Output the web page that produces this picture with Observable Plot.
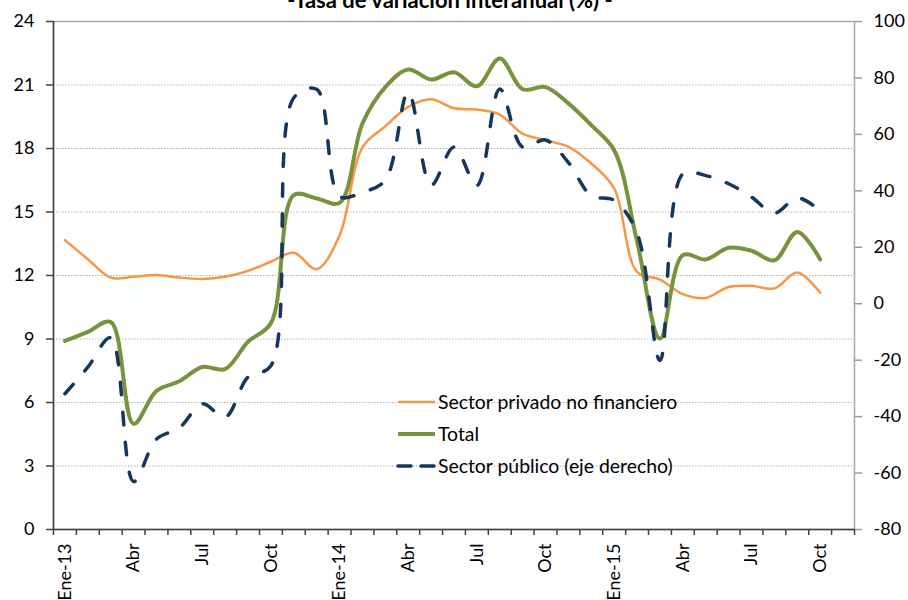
<!DOCTYPE html>
<html>
<head>
<meta charset="utf-8">
<script src="https://cdn.jsdelivr.net/npm/d3@7"></script>
<script src="https://cdn.jsdelivr.net/npm/@observablehq/plot@0.6"></script>
<style>
  html, body { margin: 0; padding: 0; background: #fff; }
  #chart { position: relative; width: 908px; height: 600px; overflow: hidden; }
</style>
</head>
<body>
<div id="chart"></div>
<script>
// Months Ene-13 .. Oct-15 (index 0..33); one empty slot (Nov-15) at the end of the axis
const meses = ["Ene-13","Feb-13","Mar-13","Abr-13","May-13","Jun-13","Jul-13","Ago-13","Sep-13","Oct-13","Nov-13","Dic-13",
               "Ene-14","Feb-14","Mar-14","Abr-14","May-14","Jun-14","Jul-14","Ago-14","Sep-14","Oct-14","Nov-14","Dic-14",
               "Ene-15","Feb-15","Mar-15","Abr-15","May-15","Jun-15","Jul-15","Ago-15","Sep-15","Oct-15"];
const nSlots = 35;

// Sector privado no financiero (left axis, %)
const privado = [13.67, 12.77, 11.90, 11.94, 12.02, 11.90, 11.84, 11.94, 12.22, 12.65, 13.07, 12.30,
                 13.90, 18.05, 19.05, 19.97, 20.33, 19.90, 19.84, 19.60, 18.70, 18.39, 18.08, 17.29,
                 16.11, 12.17, 11.81, 11.12, 10.94, 11.46, 11.51, 11.39, 12.14, 11.18];
// Total (left axis, %)
const total = [8.91, 9.34, 9.80, 4.99, 6.55, 7.00, 7.68, 7.58, 8.87, 9.75, 15.80, 15.64,
               15.43, 19.18, 20.90, 21.73, 21.26, 21.60, 20.94, 22.25, 20.80, 20.90, 20.13, 19.10,
               17.92, 13.60, 9.02, 12.96, 12.76, 13.31, 13.17, 12.72, 14.06, 12.76];
// Sector público (right axis, %)
const publico = [-31.9, -22.5, -12.0, -63.0, -48.0, -44.0, -35.5, -40.2, -26.0, -22.0, 73.0, 76.0,
                 38.0, 39.5, 43.8, 75.0, 42.0, 55.5, 41.9, 76.1, 55.5, 58.0, 50.0, 38.3,
                 36.6, 25.0, -20.1, 46.0, 45.4, 42.5, 37.8, 32.1, 37.5, 33.0];

const leftTicks = [0, 3, 6, 9, 12, 15, 18, 21, 24];
const gridTicks = [3, 6, 9, 12, 15, 18, 21];
const rightTicks = [-80, -60, -40, -20, 0, 20, 40, 60, 80, 100];
const xLabelIdx = [0, 3, 6, 9, 12, 15, 18, 21, 24, 27, 30, 33];
const xLabels = ["Ene-13","Abr","Jul","Oct","Ene-14","Abr","Jul","Oct","Ene-15","Abr","Jul","Oct"];

const titulo = "-Tasa de variación interanual (%) -";
const series = ["Sector privado no financiero", "Total", "Sector público (eje derecho)"];

// right axis (-80..100) mapped onto left scale (0..24)
const toLeft = v => (v + 80) / 7.5;
const fromLeft = d => Math.round(d * 7.5 - 80);

const rowsPriv = privado.map((v, i) => ({i, v}));
const rowsTot = total.map((v, i) => ({i, v}));
const rowsPub = publico.map((v, i) => ({i, v: toLeft(v)}));
const slotEdges = d3.range(nSlots + 1).map(k => k - 0.5);

const colors = {priv: "#F79646", tot: "#77933C", pub: "#17365D"};
const font = "Lato, 'Open Sans', sans-serif";

const chart = Plot.plot({
  width: 908,
  height: 600,
  marginTop: 21,
  marginBottom: 71,
  marginLeft: 53,
  marginRight: 54,
  style: {fontFamily: font, fontSize: "18px", color: "#000", background: "#fff", overflow: "visible"},
  x: {domain: [-0.5, nSlots - 0.5], axis: null},
  y: {domain: [0, 24], axis: null},
  marks: [
    Plot.ruleY(gridTicks, {stroke: "#b3b3b3", strokeDasharray: "1.5,1.5", strokeWidth: 1}),
    Plot.frame({stroke: "#a6a6a6", strokeWidth: 1.5}),
    Plot.ruleX([-0.5], {stroke: "#404040", strokeWidth: 1.5}),
    Plot.ruleY([0], {stroke: "#404040", strokeWidth: 1.5}),
    Plot.axisY(leftTicks, {anchor: "left", label: null, tickSize: 7, tickPadding: 12, stroke: "#404040", strokeWidth: 1.5, fill: "#000"}),
    Plot.axisY(rightTicks.map(toLeft), {anchor: "right", label: null, tickSize: 7, tickPadding: 12, stroke: "#999", strokeWidth: 1.5, fill: "#000", tickFormat: d => String(fromLeft(d))}),
    Plot.axisX(slotEdges, {anchor: "bottom", label: null, tickSize: 6, stroke: "#404040", strokeWidth: 1.5, tickFormat: () => ""}),
    Plot.axisX(xLabelIdx, {anchor: "bottom", label: null, tickSize: 0, tickPadding: 14, tickRotate: -90, fill: "#000",
      tickFormat: d => xLabels[xLabelIdx.indexOf(d)]}),
    Plot.line(rowsPriv, {x: "i", y: "v", curve: "catmull-rom", stroke: colors.priv, strokeWidth: 2.5}),
    Plot.line(rowsTot, {x: "i", y: "v", curve: "catmull-rom", stroke: colors.tot, strokeWidth: 4}),
    Plot.line(rowsPub, {x: "i", y: "v", curve: "catmull-rom", stroke: colors.pub, strokeWidth: 3.5,
      strokeDasharray: "12.5,17.5", strokeLinecap: "round"})
  ]
});

document.getElementById("chart").appendChild(chart);

// Title (partially cut at the top, as in the reference) and legend
const svg = d3.select(chart);
svg.append("text")
  .attr("x", 450).attr("y", 8)
  .attr("text-anchor", "middle")
  .attr("font-family", font).attr("font-weight", "bold").attr("font-size", 22)
  .attr("fill", "#000")
  .text(titulo);

const leg = svg.append("g").attr("font-family", font).attr("font-size", 19.4).attr("text-anchor", "start");
const legStyles = [
  {c: colors.priv, w: 2.5, dash: null},
  {c: colors.tot, w: 4, dash: null},
  {c: colors.pub, w: 3.5, dash: "13,10"}
];
series.forEach((s, k) => {
  const y = 402 + k * 32;
  const st = legStyles[k];
  const ln = leg.append("line").attr("x1", 398).attr("x2", 435).attr("y1", y).attr("y2", y)
    .attr("stroke", st.c).attr("stroke-width", st.w);
  if (st.dash) ln.attr("stroke-dasharray", st.dash).attr("stroke-linecap", "round");
  leg.append("text").attr("x", 438).attr("y", y).attr("dy", "0.35em").attr("fill", "#000").text(s);
});
</script>
</body>
</html>
